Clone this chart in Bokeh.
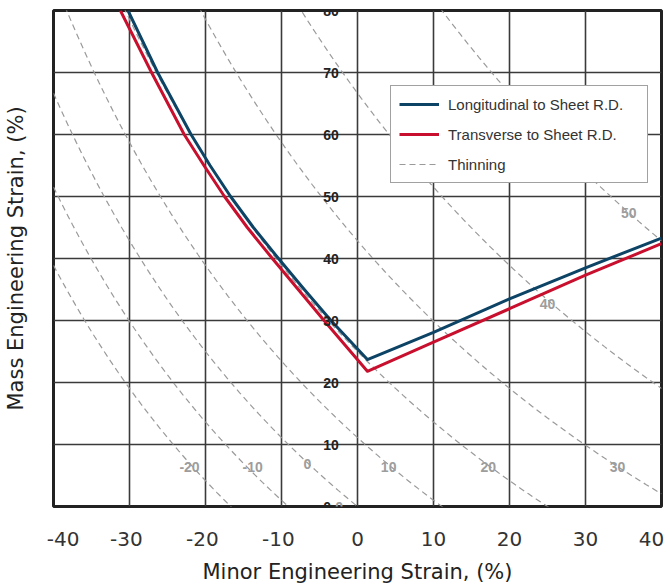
import numpy as np
from bokeh.plotting import figure
from bokeh.models import (ColumnDataSource, LabelSet, Legend, LegendItem,
                          FixedTicker, Range1d)
from bokeh.core.properties import value
from bokeh.embed import file_html
from bokeh.resources import INLINE

# ---- data ----
minor_long = [-30.2, -26.3, -21.9, -19.4, -16.7, -13.7, -10.4, -7.0, -3.5, 1.3, 10, 20, 30, 40]
major_long = [80, 70, 60, 55, 50, 45, 40, 35, 30, 23.7, 28.1, 33.5, 38.5, 43.3]
minor_trans = [-31.2, -27.1, -22.8, -20.2, -17.5, -14.5, -11.2, -7.8, -4.4, 1.3, 10, 20, 30, 40]
major_trans = [80, 70, 60, 55, 50, 45, 40, 35, 30, 21.8, 26.5, 31.9, 37.3, 42.4]

thinning_levels = [-20, -10, 0, 10, 20, 30, 40, 50]   # % thinning (iso-thickness lines)
thin_label_text = ["-20", "-10", "0", "10", "20", "30", "40", "50", "0"]
thin_label_x = [-22.1, -13.8, -6.6, 4.1, 17.2, 34.2, 25.0, 35.7, -2.4]
thin_label_y = [6.3, 6.3, 6.8, 6.3, 6.3, 6.3, 32.6, 47.3, 0.0]

x_ticks = [-40, -30, -20, -10, 0, 10, 20, 30, 40]
y_ticks = [0, 10, 20, 30, 40, 50, 60, 70, 80]
y_tick_text = [str(v) for v in y_ticks]

AX_FONT = "DejaVu Sans"
LG_FONT = "Liberation Sans"
BLUE = "#0d4466"
RED = "#c8102e"
TICK_COL = "#333333"
NB = "\u00a0"

p = figure(width=670, height=588, output_backend="svg", toolbar_location=None,
           x_range=Range1d(-40, 40), y_range=Range1d(0, 80),
           min_border_left=53, min_border_right=9, min_border_top=10, min_border_bottom=82)
p.background_fill_color = "white"
p.border_fill_color = "white"
p.outline_line_color = "#222222"
p.outline_line_width = 3

# grid
p.xgrid.ticker = FixedTicker(ticks=x_ticks)
p.ygrid.ticker = FixedTicker(ticks=y_ticks)
for g in (p.xgrid, p.ygrid):
    g.grid_line_color = "#3a3a3a"
    g.grid_line_width = 1.6
    g.grid_line_alpha = 1.0

# x axis (small nudges of the end / negative labels, as in the reference)
label_text = {v: str(v) for v in x_ticks}
label_text[-40] = NB * 3 + "-40"
label_text[40] = "40" + NB
for v in (-30, -20, -10):
    label_text[v] = str(v) + NB
p.xaxis.ticker = FixedTicker(ticks=x_ticks)
p.xaxis.major_label_overrides = label_text
p.xaxis.axis_line_color = None
p.xaxis.major_tick_line_color = None
p.xaxis.major_tick_out = 0
p.xaxis.minor_tick_line_color = None
p.xaxis.major_label_text_font = AX_FONT
p.xaxis.major_label_text_font_size = "20px"
p.xaxis.major_label_text_color = TICK_COL
p.xaxis.major_label_standoff = 20
p.xaxis.axis_label = "Minor Engineering Strain, (%)"
p.xaxis.axis_label_text_font = AX_FONT
p.xaxis.axis_label_text_font_style = "normal"
p.xaxis.axis_label_text_font_size = "21px"
p.xaxis.axis_label_text_color = "#222222"
p.xaxis.axis_label_standoff = 6

# y axis (labels drawn inside the plot, at the zero line)
p.yaxis.ticker = FixedTicker(ticks=[])
p.yaxis.axis_line_color = None
p.yaxis.major_tick_line_color = None
p.yaxis.major_tick_out = 0
p.yaxis.minor_tick_line_color = None
p.yaxis.major_label_standoff = 0
p.yaxis.axis_label = "Mass Engineering Strain, (%)"
p.yaxis.axis_label_text_font = AX_FONT
p.yaxis.axis_label_text_font_style = "normal"
p.yaxis.axis_label_text_font_size = "21px"
p.yaxis.axis_label_text_color = "#222222"
p.yaxis.axis_label_standoff = 26

# thinning iso-lines: (1+e1)(1+e2) = 1/(1-t)
e2 = np.linspace(-40, 40, 161)
xs, ys = [], []
for t in thinning_levels:
    k = 1.0 / (1.0 - t / 100.0)
    e1 = 100.0 * (k / (1.0 + e2 / 100.0) - 1.0)
    m = (e1 > -5) & (e1 < 90)
    xs.append(list(e2[m]))
    ys.append(list(e1[m]))
thin_r = p.multi_line(xs, ys, line_color="#9a9a9a", line_width=1.2, line_dash="6 4")

long_r = p.line(minor_long, major_long, line_color=BLUE, line_width=3, line_join="round")
trans_r = p.line(minor_trans, major_trans, line_color=RED, line_width=3, line_join="round")

# y tick labels drawn inside at the 0 line
ysrc = ColumnDataSource(dict(x=[-4.5] * len(y_ticks), y=y_ticks, t=y_tick_text))
p.add_layout(LabelSet(x="x", y="y", text="t", source=ysrc, text_font=value(LG_FONT),
                      text_font_style="bold", text_font_size="14px",
                      text_color="#222222", text_align="left", text_baseline="middle"))

# thinning labels
tsrc = ColumnDataSource(dict(x=thin_label_x, y=thin_label_y, t=thin_label_text))
p.add_layout(LabelSet(x="x", y="y", text="t", source=tsrc, text_font=value(LG_FONT),
                      text_font_style="bold", text_font_size="14px",
                      text_color="#9d9d9d", text_align="center", text_baseline="middle"))

legend = Legend(items=[LegendItem(label="Longitudinal to Sheet R.D.", renderers=[long_r]),
                       LegendItem(label="Transverse to Sheet R.D.", renderers=[trans_r]),
                       LegendItem(label="Thinning", renderers=[thin_r])],
                location=(337, 323))
legend.label_text_font = LG_FONT
legend.label_text_font_size = "15px"
legend.label_text_color = "#333333"
legend.glyph_width = 40
legend.glyph_height = 20
legend.label_height = 20
legend.label_width = 191
legend.label_standoff = 9
legend.spacing = 10
legend.padding = 8
legend.margin = 0
legend.border_line_color = "#444444"
legend.border_line_width = 1
legend.background_fill_color = "white"
legend.background_fill_alpha = 1.0
p.add_layout(legend, "center")

open("out.html", "w").write(file_html(p, INLINE))
